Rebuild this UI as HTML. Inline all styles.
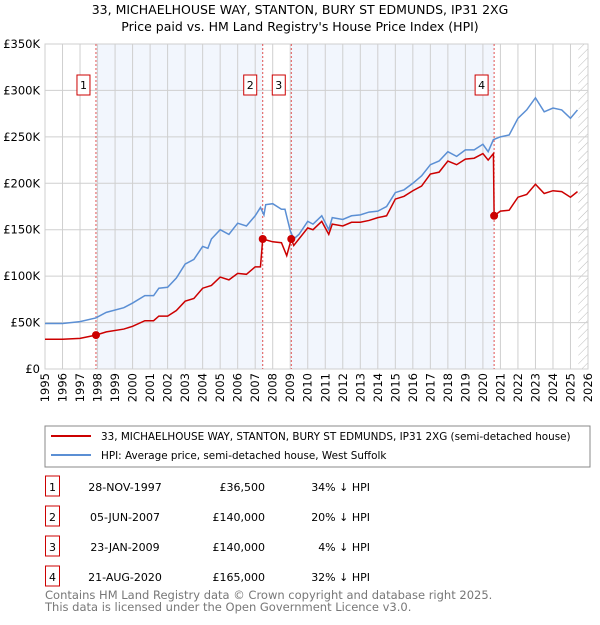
<!DOCTYPE html>
<html><head><meta charset="utf-8"><style>
body{margin:0;background:#fff;font-family:"Liberation Sans","DejaVu Sans",sans-serif;}
svg text{font-family:"DejaVu Sans","Liberation Sans",sans-serif;}
</style></head><body>
<svg id="c" width="600" height="620" xmlns="http://www.w3.org/2000/svg">
<defs><pattern id="hatch" width="6" height="6" patternUnits="userSpaceOnUse" patternTransform="rotate(45)"><line x1="0" y1="0" x2="0" y2="6" stroke="#bbb" stroke-width="1"/></pattern></defs>
<text x="300" y="14" text-anchor="middle" font-size="12.5">33, MICHAELHOUSE WAY, STANTON, BURY ST EDMUNDS, IP31 2XG</text>
<text x="300" y="31" text-anchor="middle" font-size="12.5">Price paid vs. HM Land Registry's House Price Index (HPI)</text>
<g id="plot"></g>
<rect x="45" y="426" width="545" height="41" fill="none" stroke="#888"/>
<line x1="51" y1="436" x2="91" y2="436" stroke="#cc0000" stroke-width="2"/>
<text x="101" y="440" font-size="10.4">33, MICHAELHOUSE WAY, STANTON, BURY ST EDMUNDS, IP31 2XG (semi-detached house)</text>
<line x1="51" y1="455" x2="91" y2="455" stroke="#5b8fd4" stroke-width="2"/>
<text x="101" y="459" font-size="10.4">HPI: Average price, semi-detached house, West Suffolk</text>
<g id="table"></g>
<text x="45" y="599" font-size="11.5" fill="#777">Contains HM Land Registry data © Crown copyright and database right 2025.</text>
<text x="45" y="611" font-size="11.5" fill="#777">This data is licensed under the Open Government Licence v3.0.</text>
</svg>
<script>
const hpiT=[1995,1996,1997,1997.9,1998.5,1999.5,2000,2000.7,2001.2,2001.5,2002,2002.5,2003,2003.5,2004,2004.3,2004.5,2005,2005.5,2006,2006.5,2007,2007.3,2007.5,2007.6,2008,2008.5,2008.7,2009,2009.2,2009.5,2010,2010.3,2010.8,2011.2,2011.4,2012,2012.5,2013,2013.5,2014,2014.5,2015,2015.5,2016,2016.5,2017,2017.5,2018,2018.5,2019,2019.5,2020,2020.3,2020.6,2021,2021.5,2022,2022.5,2023,2023.5,2024,2024.5,2025,2025.4];
const hpiV=[49,49,51,55,61,66,71,79,79,87,88,98,113,118,132,130,140,150,145,157,154,165,174,166,177,178,172,172,149,140,145,159,156,165,150,163,161,165,166,169,170,175,190,193,200,208,220,224,234,229,236,236,242,234,247,250,252,270,279,292,277,281,279,270,279];
const propT=[1995,1996,1997,1997.9,1998.5,1999.5,2000,2000.7,2001.2,2001.5,2002,2002.5,2003,2003.5,2004,2004.5,2005,2005.5,2006,2006.5,2007,2007.3,2007.43,2008,2008.5,2008.8,2009.06,2009.2,2010,2010.3,2010.8,2011.2,2011.4,2012,2012.5,2013,2013.5,2014,2014.5,2015,2015.5,2016,2016.5,2017,2017.5,2018,2018.5,2019,2019.5,2020,2020.3,2020.6,2020.64,2021,2021.5,2022,2022.5,2023,2023.5,2024,2024.5,2025,2025.4];
const propV=[32,32,33,36.5,40,43,46,52,52,57,57,63,73,76,87,90,99,96,103,102,110,110,140,137,136,122,140,133,152,150,159,145,156,154,158,158,160,163,165,183,186,192,197,210,212,224,220,226,227,232,225,232,165,170,171,185,188,199,189,192,191,185,191];
const saleT=[1997.91,2007.43,2009.06,2020.64];
const saleV=[36.5,140,140,165];
const saleLabels=["1","2","3","4"];
const saleDates=["28-NOV-1997","05-JUN-2007","23-JAN-2009","21-AUG-2020"];
const salePrices=["£36,500","£140,000","£140,000","£165,000"];
const salePct=["34% ↓ HPI","20% ↓ HPI","4% ↓ HPI","32% ↓ HPI"];
const yTicks=[0,50,100,150,200,250,300,350];
const yTickLabels=["£0","£50K","£100K","£150K","£200K","£250K","£300K","£350K"];
const NS="http://www.w3.org/2000/svg";
const X=t=>45+(t-1995)*(588-45)/31, Y=v=>369-v*(369-44)/350;
const g=document.getElementById('plot');
function mk(tag,at,p){const e=document.createElementNS(NS,tag);for(const k in at)e.setAttribute(k,at[k]);(p||g).appendChild(e);return e;}
let s=mk('rect',{x:X(saleT[0]),y:44,width:X(saleT[1])-X(saleT[0]),height:325,fill:'#f2f6fd'});


s=mk('rect',{x:X(saleT[2]),y:44,width:X(saleT[3])-X(saleT[2]),height:325,fill:'#f2f6fd'});


s=mk('rect',{x:X(2025.45),y:44,width:588-X(2025.45),height:325,fill:'url(#hatch)'});


for(let yr=1995;yr<=2026;yr++){
 mk('line',{x1:X(yr),y1:44,x2:X(yr),y2:369,stroke:'#cfcfcf','stroke-width':1});
 const t=mk('text',{x:0,y:0,'font-size':11.5,'text-anchor':'end',transform:`translate(${X(yr)+4},373) rotate(-90)`});
 t.textContent=yr;
 
 
}
yTicks.forEach((v,i)=>{
 mk('line',{x1:45,y1:Y(v),x2:588,y2:Y(v),stroke:'#cfcfcf','stroke-width':1});
 const t=mk('text',{x:40,y:Y(v)+4,'font-size':11.5,'text-anchor':'end'});
 t.textContent=yTickLabels[i];
 
 
});
mk('rect',{x:45,y:44,width:543,height:325,fill:'none',stroke:'#cfcfcf'});
saleT.forEach((t,i)=>{
 mk('line',{x1:X(t),y1:44,x2:X(t),y2:369,stroke:'#e05050','stroke-width':1,'stroke-dasharray':'2,2'});
});
let p=mk('polyline',{points:hpiT.map((t,i)=>X(t)+','+Y(hpiV[i])).join(' '),fill:'none',stroke:'#5b8fd4','stroke-width':1.5});


p=mk('polyline',{points:propT.map((t,i)=>X(t)+','+Y(propV[i])).join(' '),fill:'none',stroke:'#cc0000','stroke-width':1.5});


saleT.forEach((t,i)=>{
 const d=mk('circle',{cx:X(t),cy:Y(saleV[i]),r:4,fill:'#cc0000'});
 
 
 const b=mk('rect',{x:X(t)-19,y:75,width:13,height:20,fill:'#fff',stroke:'#cc0000'});
 
 
 const l=mk('text',{x:X(t)-12.5,y:89,'font-size':11,'text-anchor':'middle'});
 l.textContent=saleLabels[i];
});
const tb=document.getElementById('table');
saleLabels.forEach((lab,i)=>{
 const y=476+i*30;
 const b=mk('rect',{x:45.5,y:y,width:14,height:20,fill:'#fff',stroke:'#cc0000'},tb);
 
 
 const cells=[[lab,52.5,'middle'],[saleDates[i],125,'middle'],[salePrices[i],265,'end'],[salePct[i],370,'end']];
 cells.forEach(c=>{const t=mk('text',{x:c[1],y:y+15,'font-size':11,'text-anchor':c[2]},tb);t.textContent=c[0];
 
 });
});
</script>
</body></html>
